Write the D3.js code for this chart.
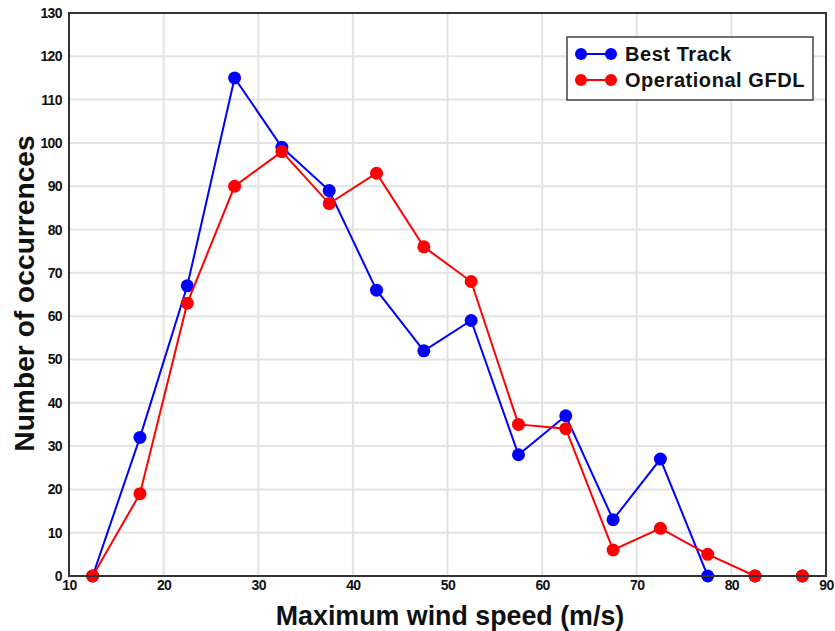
<!DOCTYPE html>
<html>
<head>
<meta charset="utf-8">
<script src="https://cdn.jsdelivr.net/npm/d3@7/dist/d3.min.js"></script>
<style>
  html, body { margin: 0; padding: 0; background: #fff; }
  svg { display: block; font-family: "Liberation Sans", Arial, sans-serif; }
</style>
</head>
<body>
<svg id="chart" width="835" height="631"></svg>
<script>
// Wind-speed bin centres (m/s)
const windBins = [12.5, 17.5, 22.5, 27.5, 32.5, 37.5, 42.5, 47.5, 52.5, 57.5, 62.5, 67.5, 72.5, 77.5, 82.5, 87.5];
// Counts per bin
const bestTrack = [0, 32, 67, 115, 99, 89, 66, 52, 59, 28, 37, 13, 27, 0, 0, 0];
const gfdl      = [0, 19, 63, 90, 98, 86, 93, 76, 68, 35, 34, 6, 11, 5, 0, 0];
const seriesNames = ["Best Track", "Operational GFDL"];
const seriesColors = ["#0000ff", "#ff0000"];
const xTicks = [10, 20, 30, 40, 50, 60, 70, 80, 90];
const yTicks = [0, 10, 20, 30, 40, 50, 60, 70, 80, 90, 100, 110, 120, 130];

const svg = d3.select("#chart");
const m = { left: 69, top: 13, right: 826, bottom: 576 };

const x = d3.scaleLinear().domain([10, 90]).range([m.left, m.right]);
const y = d3.scaleLinear().domain([0, 130]).range([m.bottom, m.top]);

// grid
const grid = svg.append("g");
grid.selectAll("line.v").data(xTicks.slice(1, -1)).join("line")
  .attr("x1", d => x(d)).attr("x2", d => x(d))
  .attr("y1", m.top).attr("y2", m.bottom)
  .attr("stroke", "#e3e3e3").attr("stroke-width", 2);
grid.selectAll("line.h").data(yTicks.slice(1, -1)).join("line")
  .attr("x1", m.left).attr("x2", m.right)
  .attr("y1", d => y(d)).attr("y2", d => y(d))
  .attr("stroke", "#e3e3e3").attr("stroke-width", 2);

// axes (labels only, no tick marks)
const xAxis = d3.axisBottom(x).tickValues(xTicks).tickSize(0).tickPadding(4).tickFormat(d3.format("d"));
const yAxis = d3.axisLeft(y).tickValues(yTicks).tickSize(0).tickPadding(7).tickFormat(d3.format("d"));

svg.append("g").attr("transform", `translate(0,${m.bottom})`).call(xAxis)
  .call(g => g.select(".domain").remove())
  .selectAll("text").attr("font-size", 14).attr("font-weight", "bold")
  .attr("fill", "#111").attr("font-family", "'Liberation Sans', Arial, sans-serif")
  .attr("letter-spacing", "-0.6");
svg.append("g").attr("transform", `translate(${m.left},0)`).call(yAxis)
  .call(g => g.select(".domain").remove())
  .selectAll("text").attr("font-size", 14).attr("font-weight", "bold")
  .attr("fill", "#111").attr("font-family", "'Liberation Sans', Arial, sans-serif")
  .attr("letter-spacing", "-0.6");

// series
const line = d3.line().x((d, i) => x(windBins[i])).y(d => y(d));
[bestTrack, gfdl].forEach((vals, k) => {
  const g = svg.append("g");
  g.append("path").datum(vals).attr("d", line)
    .attr("fill", "none").attr("stroke", seriesColors[k]).attr("stroke-width", 2);
  g.selectAll("circle").data(vals).join("circle")
    .attr("cx", (d, i) => x(windBins[i])).attr("cy", d => y(d))
    .attr("r", 6.5).attr("fill", seriesColors[k]);
});

// frame
svg.append("rect").attr("x", m.left).attr("y", m.top)
  .attr("width", m.right - m.left).attr("height", m.bottom - m.top)
  .attr("fill", "none").attr("stroke", "#333").attr("stroke-width", 2);

// legend
const lg = svg.append("g");
lg.append("rect").attr("x", 567).attr("y", 37).attr("width", 246).attr("height", 63)
  .attr("fill", "#fff").attr("stroke", "#444").attr("stroke-width", 1.5);
seriesNames.forEach((name, k) => {
  const yy = 54 + k * 26;
  lg.append("line").attr("x1", 581).attr("x2", 611).attr("y1", yy).attr("y2", yy)
    .attr("stroke", seriesColors[k]).attr("stroke-width", 2);
  lg.append("circle").attr("cx", 581).attr("cy", yy).attr("r", 6).attr("fill", seriesColors[k]);
  lg.append("circle").attr("cx", 611).attr("cy", yy).attr("r", 6).attr("fill", seriesColors[k]);
  lg.append("text").attr("x", 625).attr("y", yy + 7).text(name)
    .attr("font-size", 20).attr("font-weight", "bold").attr("fill", "#111")
    .attr("letter-spacing", "0.55");
});

// axis titles
svg.append("text").attr("x", 450).attr("y", 625)
  .attr("text-anchor", "middle").attr("font-size", 26.8).attr("font-weight", "bold")
  .attr("fill", "#111").text("Maximum wind speed (m/s)");
svg.append("text").attr("transform", `translate(33.5,293.5) rotate(-90)`)
  .attr("text-anchor", "middle").attr("font-size", 28.2).attr("font-weight", "bold")
  .attr("fill", "#111").text("Number of occurrences");
</script>
</body>
</html>
